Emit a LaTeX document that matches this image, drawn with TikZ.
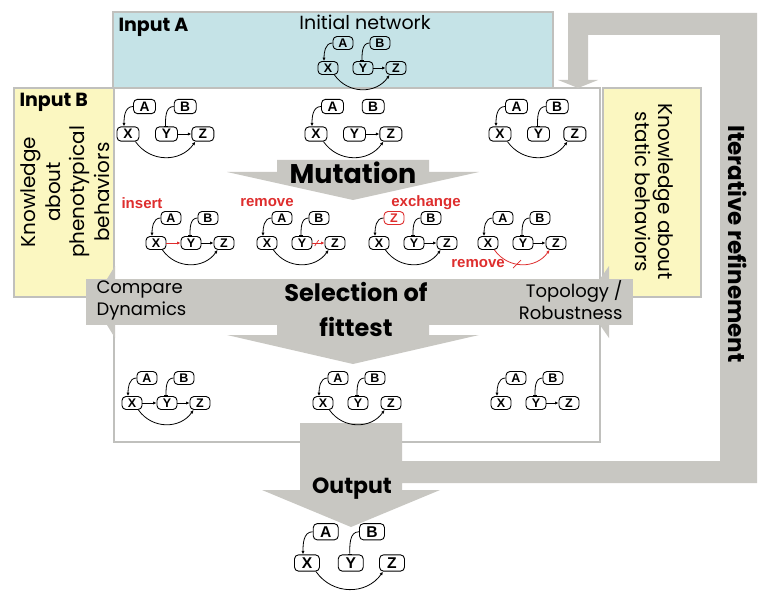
\documentclass[tikz,border=0pt]{standalone}
\usepackage{fontspec}
\setmainfont{Poppins}
\newfontfamily\knotenfont{Liberation Sans}
\usepackage{tikz}
\usetikzlibrary{arrows,arrows.meta}

\definecolor{pfeilgrau}{RGB}{200,199,194}
\definecolor{rahmengrau}{RGB}{192,192,189}
\definecolor{hellblau}{RGB}{197,227,231}
\definecolor{hellgelb}{RGB}{251,247,193}
\definecolor{signalrot}{RGB}{222,45,45}

%% Motiv mit fuenf Genen: #1 Name, #2 x, #3 y, #4 Skalierung, #5 Stil von A, #6 Text von A
\newcommand{\motiv}[6]{%
	\begin{scope}[shift={(#2,-#3)},scale=#4,transform shape]
		\node[gen] (#1X) at (0,0) {X};
		\node[gen] (#1Y) at (35,0) {Y};
		\node[gen] (#1Z) at (68,0) {Z};
		\node[gen,#5] (#1A) at (15,25) {#6};
		\node[gen] (#1B) at (52,25) {B};
	\end{scope}}
%% Kanten zwischen den Genen
\newcommand{\kAX}[1]{\draw[kante,->] (#1A.west) to[out=180,in=90] ([xshift=-4pt]#1X.north);}
\newcommand{\kBY}[1]{\draw[kante,-{Bar[width=4pt]}] (#1B.west) to[out=180,in=90] ([xshift=-1pt]#1Y.north);}
\newcommand{\kYZ}[2][]{\draw[kante,->,#1] (#2Y.east) -- (#2Z.west);}
\newcommand{\kXY}[2][]{\draw[kante,->,#1] (#2X.east) -- (#2Y.west);}
\newcommand{\kXZ}[2][]{\draw[kante,->,#1] ([xshift=-4pt]#2X.south east) to[out=-55,in=-125,looseness=1.1] ([xshift=4pt]#2Z.south west);}

\begin{document}
\begin{tikzpicture}[%
		x=1pt, y=1pt,
		>={Latex[length=3.5pt,width=3.2pt]},
		gen/.style={draw, rounded corners=4pt, line width=0.9pt, minimum width=20pt, minimum height=13pt, inner sep=1pt, font=\knotenfont\bfseries\fontsize{12.5}{12.5}\selectfont},
		kante/.style={line width=0.8pt},
		panel/.style={draw=rahmengrau, line width=1.5pt},
		pfeil/.style={fill=pfeilgrau},
		titel/.style={font=\bfseries\fontsize{19}{22}\selectfont},
		rotlabel/.style={text=signalrot, font=\knotenfont\bfseries\fontsize{15}{15}\selectfont},
		schnitt/.style={draw=signalrot, line width=0.7pt}
		]

		%% Hintergrund und Rahmen
		\fill[white] (0,0) rectangle (778,-604);
		\useasboundingbox (0,0) rectangle (778,-604);

		\draw[panel, fill=hellblau] (113,-12) rectangle (553,-88);
		\draw[panel, fill=white] (114,-88) rectangle (600,-442);
		\draw[panel, fill=hellgelb] (14,-88) rectangle (114,-297);
		\draw[panel, fill=hellgelb] (603,-88) rectangle (701,-297);

		%% graue Pfeile
		\fill[pfeil] (277,-160) -- (429,-160) -- (429,-172) -- (479,-172) -- (353,-200) -- (227,-172) -- (277,-172) -- cycle;
		\fill[pfeil] (86,-279) rectangle (633,-325);
		\fill[pfeil] (277,-279) -- (429,-279) -- (429,-335) -- (479,-335) -- (353,-364) -- (227,-335) -- (277,-335) -- cycle;
		\fill[pfeil] (107,-279) -- (115,-266) -- (115,-279) -- cycle;
		\fill[pfeil] (107,-325) -- (115,-338) -- (115,-325) -- cycle;
		\fill[pfeil] (600,-279) -- (609,-266) -- (609,-279) -- cycle;
		\fill[pfeil] (600,-325) -- (609,-338) -- (609,-325) -- cycle;
		\fill[pfeil] (300,-423) -- (402,-423) -- (402,-461) -- (720,-461) -- (720,-35) -- (588,-35) -- (588,-80)
			-- (598,-80) -- (578,-88) -- (558,-80) -- (568,-80) -- (568,-13) -- (757,-13) -- (757,-483)
			-- (402,-483) -- (402,-490) -- (440,-490) -- (351,-527) -- (262,-490) -- (300,-490) -- cycle;

		%% Beschriftungen
		\node[titel, anchor=west] (inputA) at (115,-27) {Input A};
		\node[titel, anchor=west] (inputB) at (16,-102) {Input B};
		\node[font=\fontsize{19}{22}\selectfont] (initial) at (365,-22) {Initial network};
		\node[rotate=90, align=center, font=\fontsize{20}{24.5}\selectfont] (wissenL) at (65,-192) {Knowledge\\about\\phenotypical\\behaviors};
		\node[rotate=-90, align=center, font=\fontsize{20}{23}\selectfont] (wissenR) at (654,-192) {Knowledge about\\static behaviors};
		\node[rotate=-90, font=\bfseries\fontsize{23}{26}\selectfont] (iterativ) at (738,-244) {Iterative refinement};
		\node[anchor=west, align=left, font=\fontsize{18}{22}\selectfont] (vergleich) at (93,-300) {Compare\\Dynamics};
		\node[anchor=east, align=right, font=\fontsize{18}{22}\selectfont] (topo) at (626,-300) {Topology /\\Robustness};
		\node[font=\bfseries\fontsize{27}{30}\selectfont] (mutation) at (353,-173) {Mutation};
		\node[align=center, font=\bfseries\fontsize{24}{35}\selectfont] (selektion) at (356,-309) {Selection of\\fittest};
		\node[font=\bfseries\fontsize{22}{24}\selectfont] (output) at (352,-489) {Output};

		%% Startnetzwerk
		\motiv{i}{328}{68}{1}{}{A}
		\kAX{i} \kBY{i} \kYZ{i} \kXZ{i}

		%% obere Reihe
		\motiv{t1}{128}{134}{1.1}{}{A}
		\kAX{t1} \kBY{t1} \kYZ{t1} \kXZ{t1}
		\motiv{t2}{316}{134}{1.1}{}{A}
		\kAX{t2} \kYZ{t2} \kXZ{t2}
		\motiv{t3}{500}{134}{1.1}{}{A}
		\kAX{t3} \kBY{t3} \kXZ{t3}

		%% Mutationen
		\node[rotlabel] (lInsert) at (142,-203) {insert};
		\node[rotlabel] (lRemove) at (267,-203) {remove};
		\node[rotlabel] (lExchange) at (426,-203) {exchange};
		\node[rotlabel] (lRemoveB) at (478,-264) {remove};

		\motiv{m1}{156}{243}{1}{}{A}
		\kAX{m1} \kBY{m1} \kXY[signalrot]{m1} \kYZ{m1} \kXZ{m1}
		\motiv{m2}{267}{243}{1}{}{A}
		\kAX{m2} \kBY{m2} \kXZ{m2}
		\draw[kante,->,signalrot] (m2Y.east) -- coordinate[pos=0.35] (m2cut) (m2Z.west);
		\draw[schnitt] ([shift={(-2pt,-3pt)}]m2cut) -- ([shift={(2pt,3pt)}]m2cut);
		\motiv{m3}{379}{243}{1}{draw=signalrot, text=signalrot}{Z}
		\kAX{m3} \kBY{m3} \kYZ{m3} \kXZ{m3}
		\motiv{m4}{488}{243}{1}{}{A}
		\kAX{m4} \kBY{m4} \kYZ{m4}
		\draw[kante,->,signalrot] ([xshift=-4pt]m4X.south east) to[out=-55,in=-125,looseness=1.1] coordinate[pos=0.42] (m4cut) ([xshift=4pt]m4Z.south west);
		\draw[schnitt] ([shift={(-4pt,-4pt)}]m4cut) -- ([shift={(4pt,4pt)}]m4cut);

		%% ausgewaehlte Netzwerke
		\motiv{s1}{132}{403}{1}{}{A}
		\kAX{s1} \kBY{s1} \kXY{s1} \kYZ{s1} \kXZ{s1}
		\motiv{s2}{323}{403}{1}{}{A}
		\kAX{s2} \kBY{s2} \kXZ{s2}
		\motiv{s3}{501}{403}{1}{}{A}
		\kAX{s3} \kBY{s3} \kYZ{s3}

		%% Ergebnis
		\motiv{o}{307}{563}{1.25}{}{A}
		\kAX{o} \kBY{o} \kXZ{o}

	\end{tikzpicture}
\end{document}
